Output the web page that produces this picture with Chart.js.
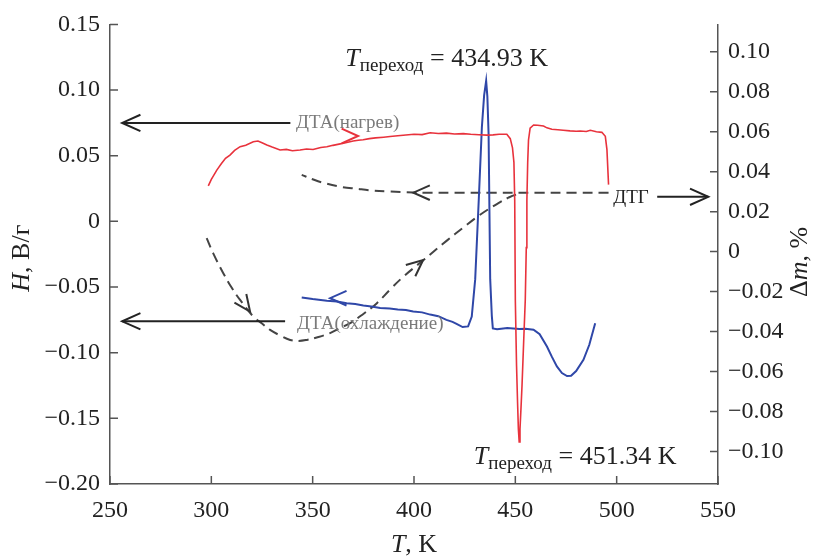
<!DOCTYPE html>
<html>
<head>
<meta charset="utf-8">
<script src="https://cdn.jsdelivr.net/npm/chart.js@4.4.1/dist/chart.umd.min.js"></script>
<style>
  body { margin: 0; background: #fff; }
</style>
</head>
<body>
<canvas id="chart" width="816" height="558"></canvas>
<script>
// --- data ---
// ДТА (нагрев), left axis, H in В/г
const redT = [298.5, 300, 302.7, 305, 307, 309.2, 311.5, 314.2, 317, 320.7, 323, 325, 327.4, 330, 333.9, 337, 340, 343.8, 347, 350.2,
  354, 357, 360, 363, 366.8, 370, 372.5, 374.9, 378, 381, 385, 388.2, 392, 396, 400, 404, 408, 412, 416, 420,
  424.3, 428, 432, 436, 439, 442, 445.8, 447.5, 448.6, 449.3, 449.7, 450.0, 450.6, 451.1, 451.5, 451.9, 452.3, 452.8, 453.3, 454.1,
  454.9, 455.4, 455.7, 456.1, 456.5, 457.3, 459, 461, 463.9, 465.6, 468, 471, 473.6, 477, 480, 482, 485, 487, 490, 492.7,
  494.4, 495.2, 496];
const redH = [0.027, 0.032, 0.039, 0.044, 0.048, 0.0505, 0.054, 0.0569, 0.058, 0.0607, 0.0612, 0.0598, 0.0582, 0.0566, 0.0544, 0.0548, 0.0538, 0.0544, 0.0551, 0.0547,
  0.0562, 0.0568, 0.0579, 0.0588, 0.0600, 0.0612, 0.0618, 0.0621, 0.0630, 0.0636, 0.0641, 0.0646, 0.0652, 0.0658, 0.0664, 0.0661, 0.0675, 0.0669, 0.0672, 0.0665,
  0.0668, 0.0663, 0.0660, 0.0657, 0.0659, 0.0664, 0.0663, 0.063, 0.056, 0.045, 0.016, -0.06, -0.11, -0.138, -0.158, -0.168, -0.158, -0.142, -0.125, -0.092,
  -0.060, -0.02, 0.016, 0.045, 0.062, 0.071, 0.0734, 0.0732, 0.0726, 0.0712, 0.0702, 0.0698, 0.0694, 0.0689, 0.0686, 0.0688, 0.0684, 0.0694, 0.0683, 0.0678,
  0.0648, 0.0546, 0.028];

// ДТА (охлаждение), left axis
const blueT = [344.6, 350, 357, 362, 366.8, 371, 375, 379, 383.3, 388, 392, 396, 399.6, 404, 408, 412, 416, 419, 421, 424,
  426.7, 428.5, 430.2, 432, 433.5, 434.6, 435.6, 436.2, 436.8, 437.6, 438.4, 438.9, 441, 443, 446, 449, 452, 455, 459, 462,
  465.6, 468, 470.5, 473, 475.5, 477.5, 480, 483.6, 486.5, 489.4];
const blueH = [-0.058, -0.0592, -0.0605, -0.0611, -0.0623, -0.0630, -0.0641, -0.0648, -0.0660, -0.0664, -0.0671, -0.0675, -0.0687, -0.0693, -0.0710, -0.0722, -0.0750, -0.0765, -0.0780, -0.0805,
  -0.0800, -0.0725, -0.044, 0.018, 0.072, 0.096, 0.107, 0.095, 0.067, -0.044, -0.072, -0.0815, -0.0822, -0.0818, -0.0812, -0.0815, -0.0820, -0.0818, -0.0825, -0.0860,
  -0.0953, -0.1030, -0.1105, -0.1155, -0.1178, -0.1175, -0.1140, -0.1054, -0.0940, -0.0775];

// ДТГ, right axis, Δm in %
const dtgHeatT = [297.7, 301, 305.9, 310, 314.2, 320.7, 325, 329, 334, 338.9, 343, 347.1, 352, 358.6, 363, 368.5, 375, 381.7, 388, 394.8,
  404.7, 416.2, 424.3, 432, 440.9, 447, 452.4];
const dtgHeatM = [0.0067, -0.001, -0.0108, -0.018, -0.0242, -0.0325, -0.036, -0.0392, -0.042, -0.0442, -0.0447, -0.0442, -0.0430, -0.0408, -0.0385, -0.0358, -0.0312, -0.0258, -0.0192, -0.0125,
  -0.0042, 0.0055, 0.0120, 0.0180, 0.0238, 0.0272, 0.0292];
const dtgCoolT = [496, 480, 460, 440, 420, 404.7, 395, 387, 380, 372, 363.5, 355, 350, 344.6];
const dtgCoolM = [0.0295, 0.0295, 0.0294, 0.0294, 0.0294, 0.0295, 0.0298, 0.0301, 0.0305, 0.0314, 0.0325, 0.0345, 0.0362, 0.0384];

const tTicks = [250, 300, 350, 400, 450, 500, 550];
const hTicks = [-0.20, -0.15, -0.10, -0.05, 0, 0.05, 0.10, 0.15];
const mTicks = [-0.10, -0.08, -0.06, -0.04, -0.02, 0, 0.02, 0.04, 0.06, 0.08, 0.10];

// annotations, in data units
const sideArrows = [
  { axis: 'y', from: [339, 0.075], to: [256, 0.075] },
  { axis: 'y', from: [336.4, -0.0761], to: [256, -0.0761] },
  { axis: 'y2', from: [520, 0.0274], to: [545.2, 0.0274] }
];
const curveArrows = [
  { axis: 'y', tip: [372.4, 0.065], from: [360, 0.065], color: '#e8323c' },
  { axis: 'y', tip: [358.6, -0.0585], from: [372, -0.0585], color: '#2f47a8' },
  { axis: 'y2', tip: [319.1, -0.030], from: [313, -0.0215], color: '#333' },
  { axis: 'y2', tip: [404.5, -0.0042], from: [396, -0.0115], color: '#333' },
  { axis: 'y2', tip: [399.7, 0.0295], from: [412, 0.0295], color: '#333' }
];

const serif = '"Liberation Serif", "DejaVu Serif", serif';
const pts = (xs, ys) => xs.map((x, i) => ({ x: x, y: ys[i] }));
const fmt = v => (v === 0 ? '0' : (v < 0 ? '\u2212' : '') + Math.abs(v).toFixed(2));

function runsWidth(ctx, runs) {
  let w = 0;
  runs.forEach(r => { ctx.font = r.font; w += ctx.measureText(r.t).width; });
  return w;
}
function drawRuns(ctx, runs, x, y, align) {
  let w = runsWidth(ctx, runs);
  let cx = align === 'left' ? x : x - w / 2;
  runs.forEach(r => {
    ctx.font = r.font;
    ctx.fillText(r.t, cx, y + (r.dy || 0));
    cx += ctx.measureText(r.t).width;
  });
}
function chevron(ctx, tx, ty, fx, fy, color, len) {
  const a = Math.atan2(ty - fy, tx - fx), sp = 0.42;
  ctx.strokeStyle = color;
  ctx.lineWidth = 2;
  ctx.beginPath();
  ctx.moveTo(tx - len * Math.cos(a - sp), ty - len * Math.sin(a - sp));
  ctx.lineTo(tx, ty);
  ctx.lineTo(tx - len * Math.cos(a + sp), ty - len * Math.sin(a + sp));
  ctx.stroke();
}

const decor = {
  id: 'decor',
  afterDatasetsDraw(chart) {
    const ctx = chart.ctx, sx = chart.scales.x, sy = chart.scales.y, sy2 = chart.scales.y2;
    const area = chart.chartArea;
    const px = (p, ax) => [sx.getPixelForValue(p[0]), chart.scales[ax].getPixelForValue(p[1])];
    ctx.save();

    // inward tick marks
    ctx.strokeStyle = '#555';
    ctx.lineWidth = 1.5;
    ctx.beginPath();
    tTicks.forEach(v => { const x = sx.getPixelForValue(v); ctx.moveTo(x, area.bottom); ctx.lineTo(x, area.bottom - 8); });
    hTicks.forEach(v => { const y = sy.getPixelForValue(v); ctx.moveTo(area.left, y); ctx.lineTo(area.left + 8, y); });
    mTicks.forEach(v => { const y = sy2.getPixelForValue(v); ctx.moveTo(area.right, y); ctx.lineTo(area.right - 8, y); });
    ctx.stroke();

    // side arrows
    sideArrows.forEach(a => {
      const f = px(a.from, a.axis), t = px(a.to, a.axis);
      ctx.strokeStyle = '#222';
      ctx.lineWidth = 2;
      ctx.beginPath(); ctx.moveTo(f[0], f[1]); ctx.lineTo(t[0], t[1]); ctx.stroke();
      chevron(ctx, t[0], t[1], f[0], f[1], '#222', 20);
    });
    curveArrows.forEach(a => {
      const t = px(a.tip, a.axis), f = px(a.from, a.axis);
      chevron(ctx, t[0], t[1], f[0], f[1], a.color, 18);
    });

    // labels
    ctx.textBaseline = 'middle';
    ctx.fillStyle = '#7a7a7a';
    let p = px([341.8, 0.075], 'y');
    drawRuns(ctx, [{ t: 'ДТА(нагрев)', font: '19px ' + serif }], p[0], p[1], 'left');
    p = px([342.3, -0.078], 'y');
    drawRuns(ctx, [{ t: 'ДТА(охлаждение)', font: '19px ' + serif }], p[0], p[1], 'left');
    ctx.fillStyle = '#222';
    p = px([498.3, 0.0274], 'y2');
    drawRuns(ctx, [{ t: 'ДТГ', font: '19px ' + serif }], p[0], p[1] + 1, 'left');

    ctx.textBaseline = 'alphabetic';
    p = px([416.1, 0.118], 'y');
    drawRuns(ctx, [
      { t: 'T', font: 'italic 26px ' + serif },
      { t: 'переход', font: '19px ' + serif, dy: 5 },
      { t: ' = 434.93 K', font: '26px ' + serif }
    ], p[0], p[1], 'center');
    p = px([479.5, -0.185], 'y');
    drawRuns(ctx, [
      { t: 'T', font: 'italic 26px ' + serif },
      { t: 'переход', font: '19px ' + serif, dy: 5 },
      { t: ' = 451.34 K', font: '26px ' + serif }
    ], p[0], p[1], 'center');

    // axis titles
    ctx.textBaseline = 'middle';
    drawRuns(ctx, [{ t: 'T', font: 'italic 26px ' + serif }, { t: ', K', font: '26px ' + serif }],
      (area.left + area.right) / 2, 545, 'center');
    ctx.translate(22, (area.top + area.bottom) / 2 + 4);
    ctx.rotate(-Math.PI / 2);
    drawRuns(ctx, [{ t: 'H', font: 'italic 26px ' + serif }, { t: ', В/г', font: '26px ' + serif }], 0, 0, 'center');
    ctx.setTransform(1, 0, 0, 1, 0, 0);
    ctx.translate(800, 262);
    ctx.rotate(-Math.PI / 2);
    drawRuns(ctx, [{ t: 'Δ', font: '26px ' + serif }, { t: 'm', font: 'italic 26px ' + serif }, { t: ', %', font: '26px ' + serif }], 0, 0, 'center');
    ctx.restore();
  }
};

const tickFont = { family: serif, size: 24 };

new Chart(document.getElementById('chart'), {
  type: 'line',
  data: {
    datasets: [
      { label: 'ДТА(нагрев)', data: pts(redT, redH), yAxisID: 'y', borderColor: '#e8323c', borderWidth: 1.6, pointRadius: 0, tension: 0 },
      { label: 'ДТА(охлаждение)', data: pts(blueT, blueH), yAxisID: 'y', borderColor: '#2f47a8', borderWidth: 2, pointRadius: 0, tension: 0 },
      { label: 'ДТГ', data: pts(dtgHeatT, dtgHeatM), yAxisID: 'y2', borderColor: '#444', borderWidth: 2, borderDash: [10, 6], pointRadius: 0, tension: 0.4 },
      { label: 'ДТГ охл', data: pts(dtgCoolT, dtgCoolM), yAxisID: 'y2', borderColor: '#444', borderWidth: 2, borderDash: [10, 6], pointRadius: 0, tension: 0.4 }
    ]
  },
  options: {
    responsive: false,
    animation: false,
    layout: { padding: { top: 24, left: 0, right: 0, bottom: 0 } },
    plugins: { legend: { display: false }, tooltip: { enabled: false } },
    scales: {
      x: {
        type: 'linear', min: 250, max: 550,
        grid: { display: false, drawTicks: false },
        border: { display: true, color: '#555', width: 1.5 },
        ticks: { font: tickFont, color: '#222', padding: 12, maxRotation: 0, callback: v => String(v) },
        afterBuildTicks: s => { s.ticks = tTicks.map(v => ({ value: v })); },
        afterFit: s => { s.height = 74; }
      },
      y: {
        position: 'left', min: -0.2, max: 0.15,
        grid: { display: false, drawTicks: false },
        border: { display: true, color: '#555', width: 1.5 },
        ticks: { font: tickFont, color: '#222', padding: 10, callback: v => fmt(v) },
        afterBuildTicks: s => { s.ticks = hTicks.map(v => ({ value: v })); },
        afterFit: s => { s.width = 110; }
      },
      y2: {
        position: 'right', min: -0.1163, max: 0.1137,
        grid: { display: false, drawTicks: false },
        border: { display: true, color: '#555', width: 1.5 },
        ticks: { font: tickFont, color: '#222', padding: 10, callback: v => fmt(v) },
        afterBuildTicks: s => { s.ticks = mTicks.map(v => ({ value: v })); },
        afterFit: s => { s.width = 98; }
      }
    }
  },
  plugins: [decor]
});
</script>
</body>
</html>
